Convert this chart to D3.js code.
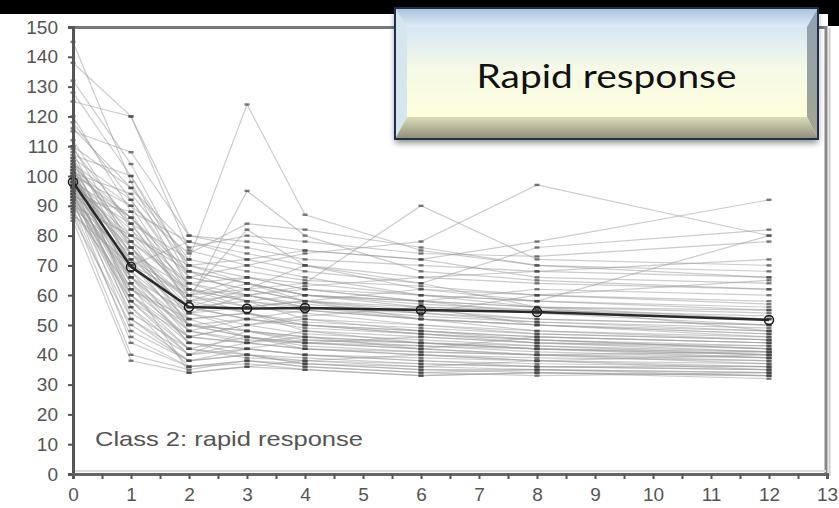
<!DOCTYPE html>
<html>
<head>
<meta charset="utf-8">
<script src="https://cdn.jsdelivr.net/npm/d3@7"></script>
<style>
  html, body { margin: 0; padding: 0; background: #fff; }
  svg { display: block; }
</style>
</head>
<body>
<svg id="chart" width="839" height="508"></svg>
<script>
// Visit times (months) at which symptom scores were recorded
const visitTimes = [0, 1, 2, 3, 4, 6, 8, 12];

// Individual patient trajectories (score at each visit, null = missed visit)
const patientScores = [
  [145, 98, 62, 58, 55, 52, 50, 48],
  [138, 120, 75, 70, 66, 60, 58, 55],
  [132, 104, 68, 64, 60, 58, 62, 60],
  [125, 120, 80, 76, 72, 70, 68, 66],
  [120, 88, 56, 52, 50, 48, 46, 44],
  [116, 96, 72, 124, 87, 75, 70, 68],
  [112, 82, 58, 95, 80, 68, 65, 62],
  [110, 76, 50, 48, 46, 44, 42, 40],
  [108, 70, 60, 62, 64, 90, 72, 70],
  [106, 92, 66, 70, 74, 78, 97, 80],
  [105, 64, 48, 45, 44, 42, 40, 38],
  [104, 80, 70, 72, 75, 72, 78, 92],
  [103, 58, 42, 40, 38, 36, 35, 34],
  [102, 74, 54, 56, 58, 56, 55, 52],
  [101, 86, 62, 60, 57, 54, 52, 50],
  [100, 68, 52, 54, 50, 48, 45, 42],
  [100, 52, 40, 42, 40, 38, 37, 36],
  [99, 72, 60, 82, 70, 62, 58, 56],
  [98, 62, 46, 44, 48, 46, 44, 43],
  [98, 78, 64, 66, 62, 60, 56, 54],
  [97, 56, 36, 38, 36, 34, 35, 33],
  [97, 66, 54, 50, 52, 50, 48, 46],
  [96, 84, 72, 68, 65, 63, 60, 58],
  [96, 60, 44, 42, 45, 43, 41, 39],
  [95, 70, 50, 52, 55, 52, 50, 47],
  [95, 48, 38, 40, 37, 35, 34, 33],
  [94, 76, 58, 60, 62, 58, 54, 52],
  [94, 64, 34, 36, 38, 40, 38, 35],
  [93, 88, 78, 74, 70, 66, 64, 62],
  [93, 54, 42, 46, 44, 42, 40, 41],
  [92, 72, 56, 58, 52, 48, 46, 44],
  [92, 44, 36, 37, 35, 33, 34, 32],
  [91, 66, 48, 52, 49, 47, 45, 42],
  [90, 80, 68, 64, 60, 57, 55, 53],
  [90, 58, 40, 44, 42, 40, 38, 37],
  [89, 74, 62, 56, 58, 62, 60, 57],
  [88, 40, 35, 38, 36, 34, 33, 34],
  [88, 62, 50, 48, 45, 44, 42, 41],
  [87, 70, 54, 60, 63, 66, 68, 72],
  [86, 50, 38, 42, 40, 38, 36, 35],
  [85, 38, 34, 36, 35, 33, 34, 33],
  [110, 96, 76, 80, 78, 74, 73, 78],
  [104, 90, 60, 66, 64, 60, 58, 80],
  [99, 82, 64, 58, 56, 54, 60, 65],
  [107, 100, 70, 66, 62, 58, 56, 52],
  [101, 60, 46, 50, 53, 56, 54, 50],
  [96, 78, 52, 46, 42, 40, 39, 38],
  [93, 66, 44, 40, 37, 36, 38, 40],
  [102, 84, 58, 54, 48, 44, 42, 39],
  [98, 70, 78, 72, 68, 64, 76, 82],
  [100, 90, 74, 84, 82, 76, 70, 66],
  [115, 108, 80, 78, 75, 72, 66, 64],
  [106, 76, 56, 62, 70, 64, 56, 48],
  [94, 56, 40, 48, 44, 46, 44, 42],
  [100, 72, 48, 44, 46, 42, 46, 44],
  [103, 86, 66, 62, 58, 52, 48, 45],
  [97, 74, 50, 46, 43, 41, 40, 37],
  [99, 64, 44, 42, 40, 39, 38, 36],
  [105, 78, 62, 58, 60, 56, 50, 47],
  [101, 94, 70, 64, 58, 54, 51, 49],
  [96, 68, 46, 50, 47, 45, 43, 41],
  [92, 60, 42, 39, 38, 37, 36, 35],
  [109, 84, 60, 56, 54, 50, 47, 45],
  [95, 62, 52, 54, 51, 49, 47, 45],
  [103, 70, 56, 52, 50, 47, 44, 41],
  [91, 52, 38, 40, 39, 37, 36, 36],
  [98, 86, 68, 60, 56, 52, 50, 46],
  [100, 76, 54, 48, 46, 44, 43, 40],
  [94, 58, 46, 44, 42, 41, 40, 39],
  [118, 92, 64, 60, 56, 53, 51, 48],
  [102, 66, 50, 46, 44, 43, 42, 40],
  [97, 80, 60, 54, 50, 47, 45, 43],
  [89, 46, 36, 38, 37, 35, 35, 34],
  [128, 100, 66, 62, 58, 55, 52, 50],
  [99, 74, 58, 64, 60, 58, 56, 55]
];

// Estimated class mean trajectory
const classMean = [98, 69.5, 56, 55.5, 55.7, 55, 54.4, 51.7];

// Axis ticks
const yTickValues = [0, 10, 20, 30, 40, 50, 60, 70, 80, 90, 100, 110, 120, 130, 140, 150];
const xTickLabels = [0, 1, 2, 3, 4, 5, 6, 7, 8, 9, 10, 11, 12, 13];
const xMinorTicks = d3.range(0, 13.01, 0.5);

const classLabel = "Class 2: rapid response";
const titleText = "Rapid response";

const svg = d3.select("#chart");
const W = 839, H = 508;

const x = d3.scaleLinear().domain([0, 13]).range([73, 827]);
const y = d3.scaleLinear().domain([0, 150]).range([474, 27]);

// page background
svg.append("rect").attr("width", W).attr("height", H).attr("fill", "#fff");

// individual trajectories
const line = d3.line()
  .defined(d => d[1] != null)
  .x(d => x(d[0]))
  .y(d => y(d[1]));

const gLines = svg.append("g");
patientScores.forEach(scores => {
  const pts = visitTimes.map((t, i) => [t, scores[i]]);
  gLines.append("path")
    .datum(pts)
    .attr("d", line)
    .attr("fill", "none")
    .attr("stroke", "#9a9a9a")
    .attr("stroke-opacity", 0.5)
    .attr("stroke-width", 1.2);
});

// visit markers (short dashes)
const gMarks = svg.append("g");
patientScores.forEach(scores => {
  visitTimes.forEach((t, i) => {
    if (scores[i] == null) return;
    gMarks.append("rect")
      .attr("x", x(t) - 2.5)
      .attr("y", y(scores[i]) - 1.2)
      .attr("width", 5)
      .attr("height", 2.4)
      .attr("fill", "#444")
      .attr("fill-opacity", 0.7);
  });
});

// class mean
const meanPts = visitTimes.map((t, i) => [t, classMean[i]]);
svg.append("path")
  .datum(meanPts)
  .attr("d", line)
  .attr("fill", "none")
  .attr("stroke", "#2a2a2a")
  .attr("stroke-width", 2.5);
svg.append("g").selectAll("circle")
  .data(meanPts)
  .join("circle")
  .attr("cx", d => x(d[0]))
  .attr("cy", d => y(d[1]))
  .attr("r", 4.5)
  .attr("fill", "none")
  .attr("stroke", "#1e1e1e")
  .attr("stroke-width", 1.6);

// frame: top and right edges
svg.append("line").attr("x1", 73).attr("x2", 827).attr("y1", 27.5).attr("y2", 27.5)
  .attr("stroke", "#777").attr("stroke-width", 3);
svg.append("line").attr("x1", 826).attr("x2", 826).attr("y1", 26).attr("y2", 475)
  .attr("stroke", "#888").attr("stroke-width", 3);
svg.append("line").attr("x1", 829.5).attr("x2", 829.5).attr("y1", 28).attr("y2", 476)
  .attr("stroke", "#ccc").attr("stroke-width", 2);
svg.append("line").attr("x1", 74).attr("x2", 826).attr("y1", 471).attr("y2", 471)
  .attr("stroke", "#ddd").attr("stroke-width", 2);

const labelFont = "'Liberation Sans', Arial, sans-serif";

// y axis
const yAxis = d3.axisLeft(y).tickValues(yTickValues).tickSize(5).tickPadding(10);
const gy = svg.append("g").attr("transform", "translate(73,0)").call(yAxis);
gy.select(".domain").attr("stroke", "#555").attr("stroke-width", 3);
gy.selectAll(".tick line").attr("stroke", "#555").attr("stroke-width", 2);
gy.selectAll(".tick text")
  .attr("fill", "#555")
  .style("font-family", labelFont)
  .style("font-size", "19px");

// x axis with half-unit tick marks
const xAxis = d3.axisBottom(x).tickValues(xMinorTicks).tickSize(5)
  .tickFormat(d => Number.isInteger(d) && xTickLabels.includes(d) ? d : "");
const gx = svg.append("g").attr("transform", "translate(0,474)").call(xAxis);
gx.select(".domain").attr("stroke", "#666").attr("stroke-width", 3);
gx.selectAll(".tick line").attr("stroke", "#555").attr("stroke-width", 2);
gx.selectAll(".tick text")
  .attr("fill", "#555")
  .attr("y", 14)
  .attr("dy", "0.71em")
  .style("font-family", labelFont)
  .style("font-size", "19px");

// class caption
svg.append("text")
  .attr("x", 95).attr("y", 446)
  .attr("textLength", 268)
  .attr("lengthAdjust", "spacingAndGlyphs")
  .attr("fill", "#555")
  .style("font-family", labelFont)
  .style("font-size", "21px")
  .text(classLabel);

// black band along the top
svg.append("rect").attr("x", 0).attr("y", 0).attr("width", W).attr("height", 14).attr("fill", "#000");
svg.append("rect").attr("x", 828).attr("y", 0).attr("width", 11).attr("height", 26).attr("fill", "#000");

// bevelled title button
const defs = svg.append("defs");
const face = defs.append("linearGradient").attr("id", "faceGrad")
  .attr("x1", 0).attr("y1", 0).attr("x2", 0).attr("y2", 1);
face.append("stop").attr("offset", "0%").attr("stop-color", "#d6e6f4");
face.append("stop").attr("offset", "45%").attr("stop-color", "#f5f9e6");
face.append("stop").attr("offset", "100%").attr("stop-color", "#ffffdc");
const topBev = defs.append("linearGradient").attr("id", "topBev")
  .attr("x1", 0).attr("y1", 0).attr("x2", 0).attr("y2", 1);
topBev.append("stop").attr("offset", "0%").attr("stop-color", "#a8c2dc");
topBev.append("stop").attr("offset", "100%").attr("stop-color", "#e0ecf7");
const botBev = defs.append("linearGradient").attr("id", "botBev")
  .attr("x1", 0).attr("y1", 0).attr("x2", 0).attr("y2", 1);
botBev.append("stop").attr("offset", "0%").attr("stop-color", "#dcdcbc");
botBev.append("stop").attr("offset", "100%").attr("stop-color", "#8e8c78");
const rightBev = defs.append("linearGradient").attr("id", "rightBev")
  .attr("x1", 0).attr("y1", 0).attr("x2", 0).attr("y2", 1);
rightBev.append("stop").attr("offset", "0%").attr("stop-color", "#8ea2b4");
rightBev.append("stop").attr("offset", "100%").attr("stop-color", "#a4a490");
const shadow = defs.append("filter").attr("id", "btnShadow")
  .attr("x", "-10%").attr("y", "-10%").attr("width", "120%").attr("height", "130%");
shadow.append("feDropShadow").attr("dx", 0).attr("dy", 4).attr("stdDeviation", 3)
  .attr("flood-color", "#000").attr("flood-opacity", 0.45);

const bx0 = 395, by0 = 8, bx1 = 818, by1 = 139;
const bevL = 12, bevR = 11, bevT = 19, bevB = 22;
const gBtn = svg.append("g");
gBtn.append("rect")
  .attr("x", bx0).attr("y", by0).attr("width", bx1 - bx0).attr("height", by1 - by0)
  .attr("fill", "url(#faceGrad)")
  .attr("filter", "url(#btnShadow)");
const ix0 = bx0 + bevL, iy0 = by0 + bevT, ix1 = bx1 - bevR, iy1 = by1 - bevB;
gBtn.append("polygon")
  .attr("points", [[bx0, by0], [bx1, by0], [ix1, iy0], [ix0, iy0]].join(" "))
  .attr("fill", "url(#topBev)");
gBtn.append("polygon")
  .attr("points", [[bx0, by0], [ix0, iy0], [ix0, iy1], [bx0, by1]].join(" "))
  .attr("fill", "#d6e6ee");
gBtn.append("polygon")
  .attr("points", [[bx1, by0], [bx1, by1], [ix1, iy1], [ix1, iy0]].join(" "))
  .attr("fill", "url(#rightBev)");
gBtn.append("polygon")
  .attr("points", [[bx0, by1], [ix0, iy1], [ix1, iy1], [bx1, by1]].join(" "))
  .attr("fill", "url(#botBev)");
gBtn.append("rect")
  .attr("x", ix0).attr("y", iy0).attr("width", ix1 - ix0).attr("height", iy1 - iy0)
  .attr("fill", "url(#faceGrad)");
gBtn.append("rect")
  .attr("x", bx0).attr("y", by0).attr("width", bx1 - bx0).attr("height", by1 - by0)
  .attr("fill", "none")
  .attr("stroke", "#1f2f48").attr("stroke-width", 2);

gBtn.append("text")
  .attr("x", (bx0 + bx1) / 2).attr("y", 88)
  .attr("text-anchor", "middle")
  .attr("textLength", 260)
  .attr("lengthAdjust", "spacingAndGlyphs")
  .attr("fill", "#111")
  .style("font-family", "Lato, 'Open Sans', sans-serif")
  .style("font-size", "33px")
  .text(titleText);
</script>
</body>
</html>
